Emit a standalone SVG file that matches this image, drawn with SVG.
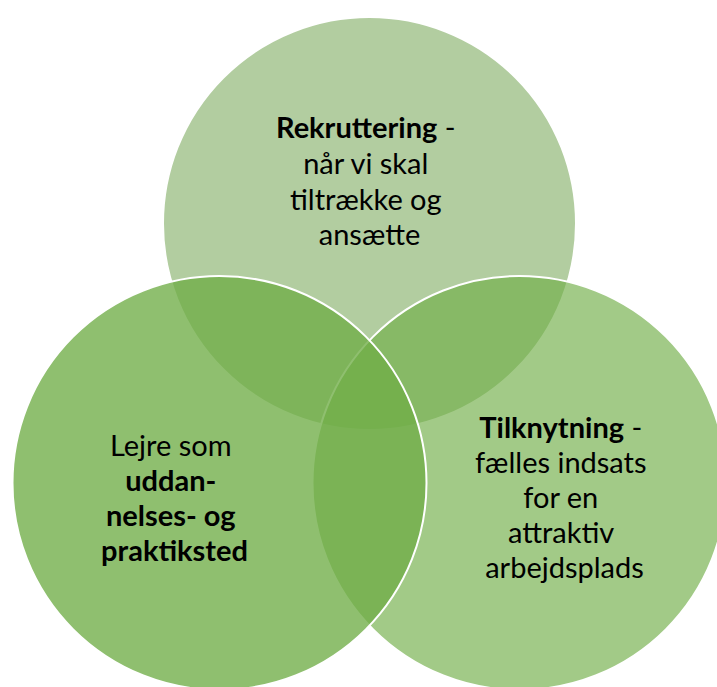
<svg xmlns="http://www.w3.org/2000/svg" width="717" height="687" viewBox="0 0 717 687">
  <style>
    .c { stroke: #ffffff; stroke-width: 2; }
    .t { font-family: Lato, "Open Sans", "Liberation Sans", sans-serif; font-size: 29px; fill: #000000; text-anchor: middle; }
    .b { font-weight: bold; }
  </style>
  <rect x="0" y="0" width="717" height="687" fill="#ffffff"/>
  <g id="node-rekruttering">
    <circle class="c" cx="369.5" cy="223.5" r="206.5" fill="#73A452" fill-opacity="0.55"/>
    <text class="t">
      <tspan x="369.5" y="138"><tspan class="b">Rekruttering</tspan> -</tspan>
      <tspan x="369.5" y="174">når vi skal</tspan>
      <tspan x="369.5" y="209.5">tiltrække og</tspan>
      <tspan x="369.5" y="245">ansætte</tspan>
    </text>
  </g>
  <g id="node-tilknytning">
    <circle class="c" cx="519.5" cy="483" r="207" fill="#70AD47" fill-opacity="0.65"/>
    <text class="t">
      <tspan x="564.5" y="438"><tspan class="b">Tilknytning</tspan> -</tspan>
      <tspan x="564.5" y="472.5">fælles indsats</tspan>
      <tspan x="564.5" y="507.5">for en</tspan>
      <tspan x="564.5" y="542.5">attraktiv</tspan>
      <tspan x="564.5" y="577.5">arbejdsplads</tspan>
    </text>
  </g>
  <g id="node-lejre">
    <circle class="c" cx="219.5" cy="483" r="207" fill="#70AD47" fill-opacity="0.78"/>
    <text class="t">
      <tspan x="174.5" y="456">Lejre som</tspan>
      <tspan class="b" x="174.5" y="491">uddan-</tspan>
      <tspan class="b" x="174.5" y="526">nelses- og</tspan>
      <tspan class="b" x="174.5" y="561">praktiksted</tspan>
    </text>
  </g>
</svg>
